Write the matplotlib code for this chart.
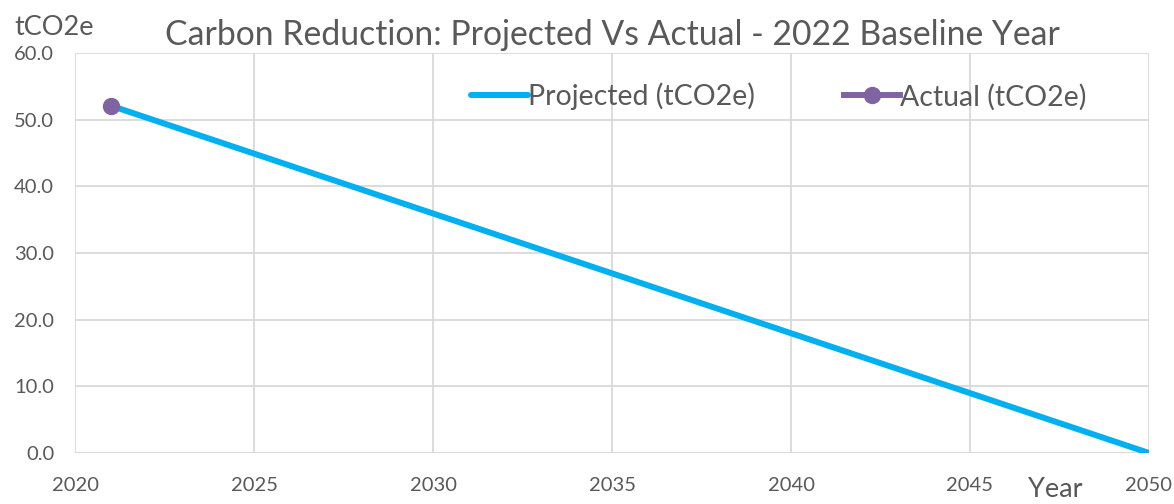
import matplotlib
matplotlib.use('Agg')
import matplotlib.pyplot as plt

plt.rcParams['font.family'] = ['Lato', 'DejaVu Sans']

# data
proj_years = [2021, 2050]
proj_values = [52.1, 0.0]
actual_years = [2021]
actual_values = [52.1]
x_ticks = [2020, 2025, 2030, 2035, 2040, 2045, 2050]
y_ticks = [0, 10, 20, 30, 40, 50, 60]

TEXT = '#595959'
GRID = '#D9D9D9'

fig = plt.figure(figsize=(11.74, 5.04), dpi=100)
ax = fig.add_axes([0.0639, 0.1012, 0.9148, 0.7936])

ax.plot(proj_years, proj_values, color='#00B0F0', lw=4.3,
        solid_capstyle='round', label='Projected (tCO2e)', zorder=3)
ax.plot(actual_years, actual_values, color='#8064A2', lw=4.3, marker='o',
        markersize=11.5, label='Actual (tCO2e)', zorder=4)

ax.set_xlim(2020, 2050)
ax.set_ylim(0, 60)
ax.set_xticks(x_ticks)
ax.set_yticks(y_ticks)
ax.set_yticklabels([f'{v:.1f}' for v in y_ticks])
ax.grid(True, color=GRID, lw=1.3)
ax.set_axisbelow(True)
for s in ax.spines.values():
    s.set_visible(False)
ax.tick_params(length=0, labelsize=14.5, colors=TEXT)
ax.tick_params(axis='x', pad=17)
ax.tick_params(axis='y', pad=15)

ax.set_title('Carbon Reduction: Projected Vs Actual - 2022 Baseline Year',
             fontsize=24.3, color=TEXT, pad=6)
fig.text(0.012, 0.945, 'tCO2e', fontsize=19.5, color=TEXT, ha='left', va='center')
fig.text(0.899, 0.028, 'Year', fontsize=19.5, color=TEXT, ha='center', va='center')

leg = ax.legend(loc='upper right', ncol=2, frameon=False, fontsize=20.5,
                bbox_to_anchor=(0.966, 0.99), handlelength=2.0,
                handletextpad=0.0, columnspacing=3.1)
for t in leg.get_texts():
    t.set_color(TEXT)

plt.savefig('out.png', dpi=100)
